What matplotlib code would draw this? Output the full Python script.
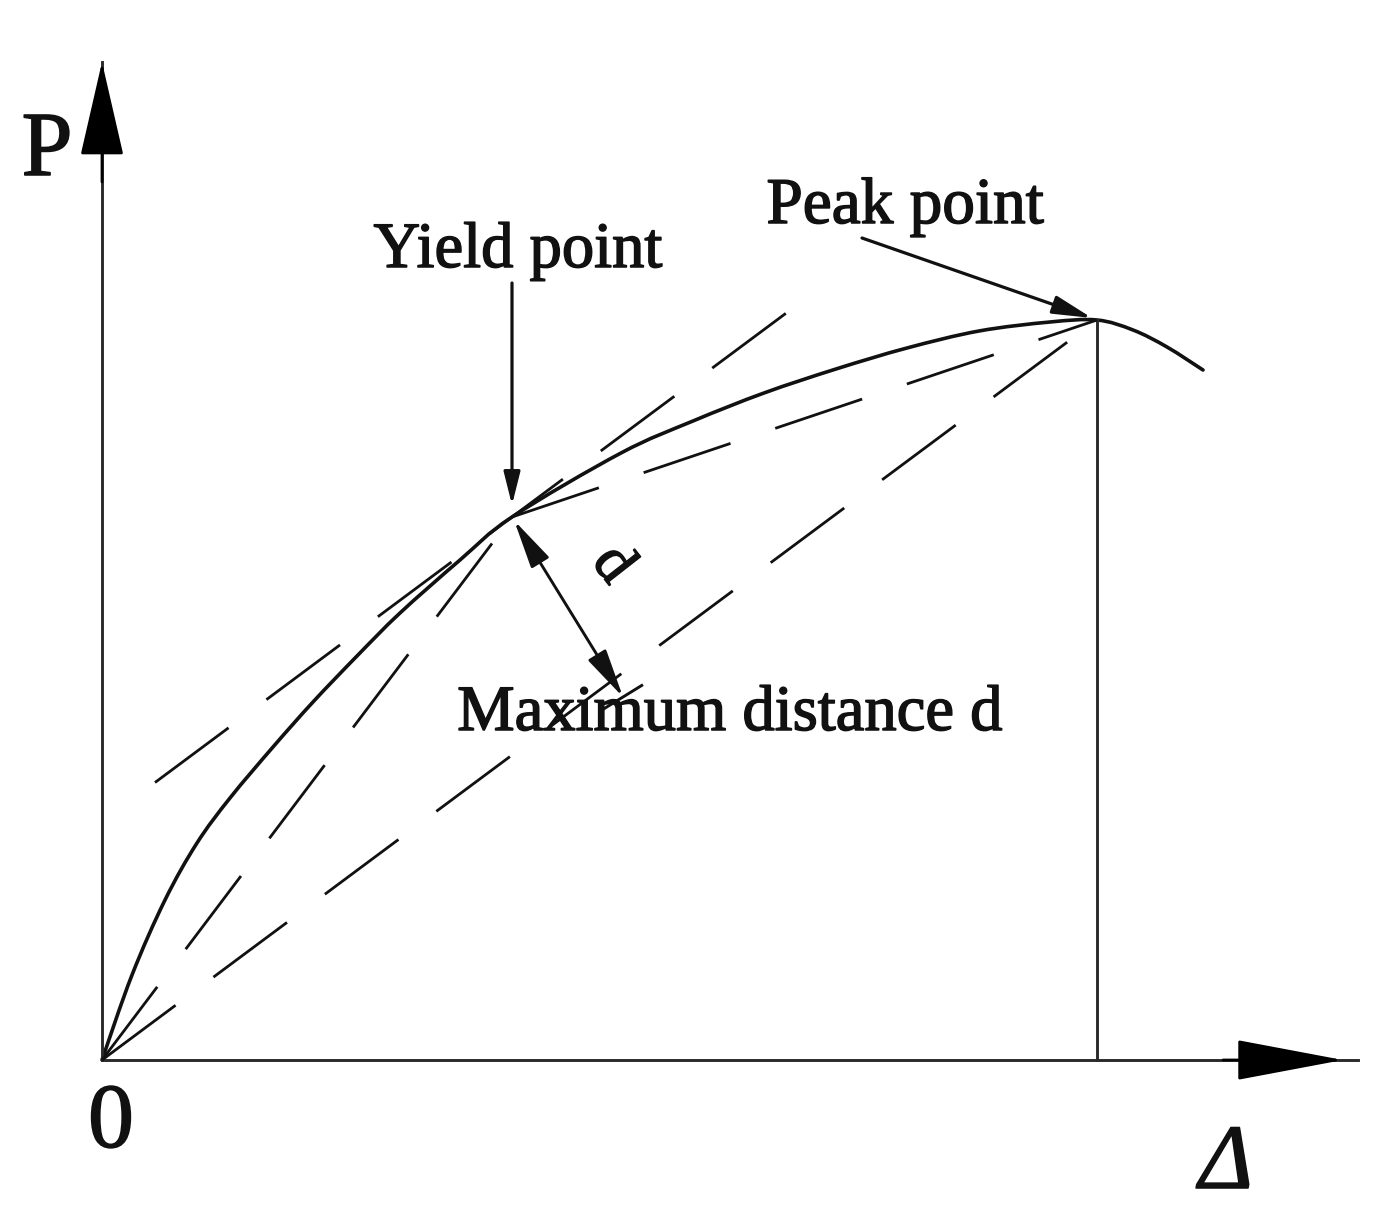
import numpy as np
import matplotlib.pyplot as plt
from matplotlib.path import Path
from matplotlib.patches import PathPatch
import matplotlib.patheffects as pe

plt.rcParams['font.family'] = ['Liberation Serif', 'DejaVu Serif']
plt.rcParams['lines.scale_dashes'] = False

# P-Δ curve (drawing units)
curve_delta = [0.00, 0.30, 0.63, 0.95, 1.28, 1.71, 2.11, 2.55, 2.98, 3.58, 4.10,
               5.19, 5.91, 6.62, 7.34, 8.05, 8.77, 9.48, 9.95, 10.31, 10.65, 11.01]
curve_load = [0.00, 0.85, 1.60, 2.17, 2.62, 3.13, 3.58, 4.04, 4.47, 5.00, 5.43,
              6.07, 6.39, 6.67, 6.91, 7.12, 7.29, 7.38, 7.40, 7.30, 7.13, 6.90]

yield_pt = (4.10, 5.43)
peak_pt = (9.95, 7.40)
d_end = (5.21, 3.63)          # end of the "maximum distance" dimension
tangent_span = (0.53, 7.13)   # Δ range of the dashed tangent through the yield point

axis_tip = (12.41, 9.98)
axis_end = (12.56, 9.98)

ink = '#111111'
axis_col = '#2a2a2a'
dash = (0, (66, 34))
heavy = [pe.withStroke(linewidth=1.1, foreground=ink)]


def smooth_path(xs, ys):
    # pass a smooth bezier through the read points
    p = np.column_stack([xs, ys])
    ext = np.vstack([p[0], p, p[-1]])
    verts = [p[0]]
    codes = [Path.MOVETO]
    for i in range(1, len(ext) - 2):
        c1 = ext[i] + (ext[i + 1] - ext[i - 1]) / 6
        c2 = ext[i + 1] - (ext[i + 2] - ext[i]) / 6
        verts += [c1, c2, ext[i + 1]]
        codes += [Path.CURVE4] * 3
    return Path(verts, codes)


fig = plt.figure(figsize=(13.79, 12.22), dpi=100)
ax = fig.add_axes([0, 0, 1, 1])
ax.set_xlim(-1.02, 12.77)
ax.set_ylim(-1.62, 10.60)
ax.axis('off')

# axes with arrow heads
ax.plot([0, axis_end[0]], [0, 0], color=axis_col, lw=2.1)
ax.plot([0, 0], [0, axis_end[1]], color=axis_col, lw=2.1)
ax.annotate('', xy=(axis_tip[0], 0), xytext=(axis_tip[0] - 1.2, 0),
            arrowprops=dict(arrowstyle='-|>,head_length=0.69,head_width=0.13',
                            mutation_scale=100, lw=2.0, color='black',
                            shrinkA=0, shrinkB=0))
ax.annotate('', xy=(0, axis_tip[1]), xytext=(0, axis_tip[1] - 1.2),
            arrowprops=dict(arrowstyle='-|>,head_length=0.61,head_width=0.14',
                            mutation_scale=100, lw=2.0, color='black',
                            shrinkA=0, shrinkB=0))

# main curve
ax.add_patch(PathPatch(smooth_path(curve_delta, curve_load), fill=False,
                       edgecolor=ink, lw=2.6, capstyle='round'))

# vertical line below the peak
ax.plot([peak_pt[0], peak_pt[0]], [0, peak_pt[1]], color=axis_col, lw=2.1)

# dashed construction lines
k = peak_pt[1] / peak_pt[0]
ax.plot([0, peak_pt[0]], [0, peak_pt[1]], color=ink, lw=2.0, linestyle=dash)
ax.plot([0, yield_pt[0]], [0, yield_pt[1]], color=ink, lw=2.0, linestyle=dash)
ax.plot([yield_pt[0], peak_pt[0]], [yield_pt[1], peak_pt[1]], color=ink, lw=2.0,
        linestyle=dash)
tx = np.array(tangent_span)
ax.plot(tx, yield_pt[1] + k * (tx - yield_pt[0]), color=ink, lw=2.0, linestyle=dash)

# maximum distance dimension
ax.annotate('', xy=yield_pt, xytext=d_end,
            arrowprops=dict(arrowstyle='<|-|>,head_length=1.5,head_width=0.32',
                            mutation_scale=20, lw=2.1, color=ink,
                            shrinkA=0, shrinkB=3))
u = np.array(d_end) - np.array(yield_pt)
u = u / np.hypot(*u)
v = np.array([-u[1], u[0]])
bar = np.array([np.array(d_end) - 0.27 * v, np.array(d_end) + 0.22 * v])
ax.plot(bar[:, 0], bar[:, 1], color=ink, lw=2.1)
ax.text(5.10, 4.95, 'd', fontsize=44, rotation=-52, ha='center', va='center',
        color=ink, path_effects=heavy)

# pointers
ax.annotate('', xy=(yield_pt[0], yield_pt[1] + 0.12), xytext=(yield_pt[0], 7.77),
            arrowprops=dict(arrowstyle='-|>,head_length=1.0,head_width=0.25',
                            mutation_scale=20, lw=2.3, color=ink,
                            shrinkA=0, shrinkB=0))
ax.annotate('', xy=(peak_pt[0] - 0.05, peak_pt[1] + 0.02), xytext=(7.60, 8.22),
            arrowprops=dict(arrowstyle='-|>,head_length=1.2,head_width=0.28',
                            mutation_scale=20, lw=2.3, color=ink,
                            shrinkA=0, shrinkB=0))

# labels
ax.text(4.16, 7.93, 'Yield point', fontsize=46.5, ha='center', va='baseline',
        color=ink, path_effects=heavy)
ax.text(8.03, 8.37, 'Peak point', fontsize=47, ha='center', va='baseline',
        color=ink, path_effects=heavy)
ax.text(6.28, 3.30, 'Maximum distance d', fontsize=46.5, ha='center', va='baseline',
        color=ink, path_effects=heavy)
ax.text(-0.55, 8.85, 'P', fontsize=66, ha='center', va='baseline', color=ink,
        path_effects=heavy)
ax.text(0.09, -0.87, '0', fontsize=66, ha='center', va='baseline', color=ink,
        path_effects=heavy)
ax.text(11.24, -1.28, 'Δ', fontsize=66, style='italic', ha='center', va='baseline',
        color=ink, path_effects=heavy)

fig.savefig('out.png', dpi=100)
